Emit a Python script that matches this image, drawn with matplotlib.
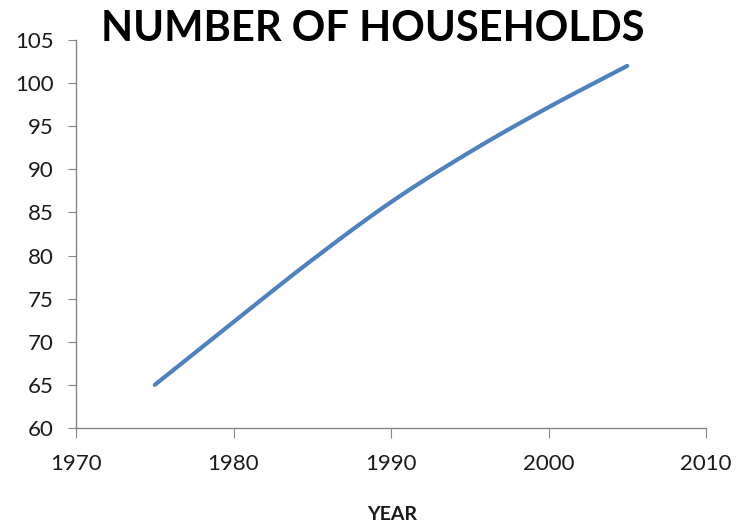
import numpy as np
import matplotlib
matplotlib.use("Agg")
import matplotlib.pyplot as plt

years = [1975, 1980, 1985, 1990, 1995, 2000, 2005]
households = [65.0, 72.3, 79.5, 86.2, 92.0, 97.2, 102.0]
x_ticks = [1970, 1980, 1990, 2000, 2010]
y_ticks = [60, 65, 70, 75, 80, 85, 90, 95, 100, 105]
title = "NUMBER OF HOUSEHOLDS"
xlabel = "YEAR"


def smooth(xs, ys, n=30):
    # Catmull-Rom style smoothing (like a spreadsheet "smoothed line")
    xs = np.asarray(xs, float)
    ys = np.asarray(ys, float)
    px = np.concatenate([[2 * xs[0] - xs[1]], xs, [2 * xs[-1] - xs[-2]]])
    py = np.concatenate([[2 * ys[0] - ys[1]], ys, [2 * ys[-1] - ys[-2]]])
    ox, oy = [], []
    for i in range(1, len(px) - 2):
        t = np.linspace(0, 1, n, endpoint=(i == len(px) - 3))
        for P, out in ((px, ox), (py, oy)):
            p0, p1, p2, p3 = P[i - 1], P[i], P[i + 1], P[i + 2]
            out.extend(0.5 * ((2 * p1) + (-p0 + p2) * t
                              + (2 * p0 - 5 * p1 + 4 * p2 - p3) * t ** 2
                              + (-p0 + 3 * p1 - 3 * p2 + p3) * t ** 3))
    return np.array(ox), np.array(oy)


plt.rcParams['font.family'] = ['Lato', 'DejaVu Sans']

fig = plt.figure(figsize=(7.36, 5.25), dpi=100)
ax = fig.add_axes([76 / 736, 1 - 428 / 525, 630 / 736, 388 / 525])

sx, sy = smooth(years, households)
ax.plot(sx, sy, color='#4F81BD', linewidth=3.0, solid_capstyle='round')

ax.set_xlim(1970, 2010)
ax.set_ylim(60, 105)
ax.set_xticks(x_ticks)
ax.set_yticks(y_ticks)
ax.tick_params(axis='x', direction='out', length=7, color='#868686',
               labelsize=16, pad=12, labelcolor='#1a1a1a')
ax.tick_params(axis='y', direction='out', length=6, color='#868686',
               labelsize=16, pad=10, labelcolor='#1a1a1a')
for s in ('top', 'right'):
    ax.spines[s].set_visible(False)
for s in ('left', 'bottom'):
    ax.spines[s].set_color('#868686')
    ax.spines[s].set_linewidth(1.0)

fig.text(0.506, 0.945, title, ha='center', va='center',
         fontsize=30, fontweight='bold', color='black')
fig.text(392 / 736, 1 - 514 / 525, xlabel, ha='center', va='center',
         fontsize=14, fontweight='bold', color='#1a1a1a')

fig.savefig('out.png', dpi=100)
